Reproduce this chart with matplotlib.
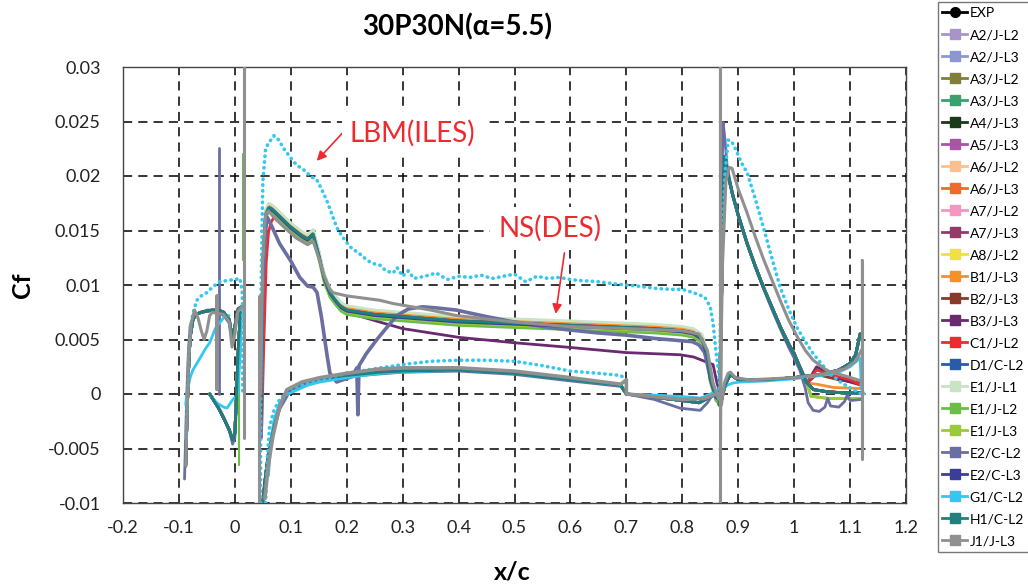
import numpy as np
import matplotlib
matplotlib.use("Agg")
import matplotlib.pyplot as plt
from matplotlib.lines import Line2D
from matplotlib.ticker import FuncFormatter, MultipleLocator

plt.rcParams["font.family"] = ["Lato", "DejaVu Sans"]

# ---- data ----
NAMES = ["EXP", "A2/J-L2", "A2/J-L3", "A3/J-L2", "A3/J-L3", "A4/J-L3", "A5/J-L3",
         "A6/J-L2", "A6/J-L3", "A7/J-L2", "A7/J-L3", "A8/J-L2", "B1/J-L3", "B2/J-L3",
         "B3/J-L3", "C1/J-L2", "D1/C-L2", "E1/J-L1", "E1/J-L2", "E1/J-L3", "E2/C-L2",
         "E2/C-L3", "G1/C-L2", "H1/C-L2", "J1/J-L3"]
COLORS = ["#000000", "#A894C8", "#8C96D2", "#7F7F3A", "#3AA070", "#1A3A1A", "#A855A8",
          "#FCC090", "#F06A30", "#F595C0", "#943A6A", "#F0E040", "#F59030", "#8B3A2A",
          "#6A2A70", "#EE2A30", "#2A5AAA", "#C8E4C4", "#6ABE45", "#9ACA3C", "#6A6EA0",
          "#3A3E98", "#33C8F0", "#208080", "#909090"]

EXP_X = []
EXP_Y = []

# consensus of the NS (DES) group
SLAT_UP_X = [-0.088, -0.086, -0.083, -0.08, -0.075, -0.07, -0.06, -0.05, -0.04, -0.03,
             -0.02, -0.01, -0.005, 0.0, 0.006, 0.012]
SLAT_UP_Y = [-0.0066, -0.003, 0.002, 0.0052, 0.0068, 0.0073, 0.0075, 0.0076, 0.0077, 0.0077,
             0.0075, 0.0068, 0.0052, 0.0062, 0.0078, 0.008]
SLAT_LO_X = [-0.045, -0.04, -0.03, -0.02, -0.01, -0.004, 0.0, 0.003, 0.006, 0.01]
SLAT_LO_Y = [0.0, -0.0004, -0.0012, -0.0022, -0.0033, -0.0042, -0.0036, 0.0, 0.004, 0.0075]

MAIN_UP_X = [0.047, 0.05, 0.055, 0.06, 0.065, 0.07, 0.08, 0.09, 0.1, 0.11, 0.12, 0.13, 0.14,
             0.15, 0.16, 0.17, 0.18, 0.19, 0.2, 0.25, 0.3, 0.35, 0.4, 0.45, 0.5, 0.55, 0.6,
             0.65, 0.7, 0.75, 0.8, 0.82, 0.835, 0.845, 0.85, 0.86, 0.866]
MAIN_UP_Y = [-0.002, 0.012, 0.0165, 0.0171, 0.017, 0.0168, 0.0163, 0.0158, 0.0153, 0.0149,
             0.0145, 0.0142, 0.0147, 0.0128, 0.0106, 0.0093, 0.0086, 0.008, 0.0077, 0.0073,
             0.0071, 0.0069, 0.0067, 0.0066, 0.0065, 0.0064, 0.0063, 0.0062, 0.0061, 0.006,
             0.0058, 0.0056, 0.0051, 0.0035, 0.0015, -0.0002, -0.0005]
MAIN_LO_X = [0.05, 0.055, 0.06, 0.07, 0.08, 0.09, 0.1, 0.12, 0.15, 0.2, 0.26, 0.3, 0.4, 0.5,
             0.6, 0.69, 0.7, 0.75, 0.8, 0.83, 0.845, 0.86]
MAIN_LO_Y = [-0.0099, -0.0075, -0.0055, -0.003, -0.0012, 0.0, 0.0005, 0.001, 0.0014, 0.0017,
             0.002, 0.0021, 0.0022, 0.0019, 0.0013, 0.0008, 0.0, -0.0003, -0.0006, -0.0008,
             -0.0004, 0.0]

FLAP_UP_X = [0.866, 0.87, 0.873, 0.876, 0.88, 0.89, 0.9, 0.916, 0.93, 0.945, 0.96, 0.975,
             0.99, 1.0, 1.01, 1.023]
FLAP_UP_Y = [-0.001, 0.008, 0.018, 0.0218, 0.0205, 0.0183, 0.0164, 0.0138, 0.0118, 0.0098,
             0.008, 0.0062, 0.0046, 0.0037, 0.0025, 0.001]
FLAP_LO_X = [0.868, 0.875, 0.88, 0.886, 0.9, 0.95, 1.0, 1.05, 1.08, 1.1, 1.11, 1.118]
FLAP_LO_Y = [-0.001, 0.0005, 0.0012, 0.0018, 0.0013, 0.0013, 0.0015, 0.0018, 0.0022, 0.0028,
             0.0036, 0.0055]

# flap trailing part of the upper surface, per group
TAIL_DEFAULT = ([1.035, 1.06, 1.09, 1.12], [0.0004, 0.0002, 0.0001, 0.0001])
TAIL_E1 = ([1.03, 1.06, 1.12], [-0.0002, -0.0004, -0.0004])
TAIL_B1 = ([1.04, 1.07, 1.12], [0.0009, 0.0006, 0.0005])
TAIL_B2 = ([1.04, 1.08, 1.12], [0.0018, 0.0013, 0.001])
TAIL_C1 = ([1.04, 1.07, 1.1, 1.12], [0.0022, 0.0017, 0.0013, 0.0008])
TAIL_B3 = ([1.04, 1.08, 1.12], [0.0025, 0.0014, 0.0008])

# shift of each NS series on the main element upper surface
MAIN_SHIFT = {"A2/J-L2": 0.0001, "A2/J-L3": 0.0001, "A3/J-L2": 0.0, "A3/J-L3": -0.0001,
              "A4/J-L3": 0.0, "A5/J-L3": 0.0, "A6/J-L2": 0.0003, "A6/J-L3": 0.0001,
              "A7/J-L2": 0.0002, "A7/J-L3": 0.0, "A8/J-L2": 0.0001, "B1/J-L3": 0.0002,
              "B2/J-L3": -0.0001, "B3/J-L3": 0.0, "C1/J-L2": 0.0, "D1/C-L2": 0.0,
              "E1/J-L1": 0.0004, "E1/J-L2": -0.0004, "E1/J-L3": -0.0002, "E2/C-L3": -0.0001,
              "H1/C-L2": 0.0}
TAILS = {"B1/J-L3": TAIL_B1, "B2/J-L3": TAIL_B2, "C1/J-L2": TAIL_C1, "B3/J-L3": TAIL_B3,
         "E1/J-L1": TAIL_E1, "E1/J-L2": TAIL_E1, "E1/J-L3": TAIL_E1}

# B3/J-L3 departs from the group aft of x/c=0.2
B3_MAIN_X = [0.2, 0.259, 0.3, 0.4, 0.5, 0.593, 0.7, 0.796, 0.82, 0.84, 0.855, 0.862, 0.87]
B3_MAIN_Y = [0.0075, 0.0066, 0.006, 0.0052, 0.0047, 0.0043, 0.0038, 0.0036, 0.0034, 0.003,
             0.0027, 0.001, -0.0003]
# C1/J-L2 slower rise at the main leading edge
C1_LE_X = [0.048, 0.052, 0.056, 0.06, 0.065, 0.07, 0.08]
C1_LE_Y = [-0.003, 0.005, 0.012, 0.0148, 0.0158, 0.0162, 0.0162]

# E2/C-L2
E2_SLAT_UP_X = [-0.09, -0.088, -0.086, -0.083, -0.08, -0.075, -0.07, -0.06, -0.05, -0.04,
                -0.03, -0.02, -0.01, -0.005, 0.0, 0.005]
E2_SLAT_UP_Y = [-0.0078, -0.004, 0.0, 0.004, 0.0062, 0.007, 0.0073, 0.0075, 0.0077, 0.0077,
                0.0074, 0.0072, 0.0065, 0.0048, 0.006, 0.0075]
E2_SPIKE_X = [-0.029, -0.029]
E2_SPIKE_Y = [0.0, 0.0226]
E2_SLAT_LO_X = [-0.045, -0.035, -0.02, -0.01, -0.004, 0.0, 0.003]
E2_SLAT_LO_Y = [0.0, -0.0008, -0.0022, -0.0033, -0.0046, -0.004, -0.001]
E2_MAIN_UP_X = [0.047, 0.05, 0.055, 0.058, 0.065, 0.08, 0.1, 0.116, 0.13, 0.14, 0.147, 0.155,
                0.165, 0.17, 0.182, 0.193, 0.21, 0.218, 0.22, 0.222, 0.235, 0.254, 0.27, 0.29,
                0.31, 0.336, 0.36, 0.396, 0.45, 0.5, 0.55, 0.593, 0.65, 0.7, 0.75, 0.818, 0.83,
                0.84, 0.85, 0.86]
E2_MAIN_UP_Y = [-0.004, 0.01, 0.015, 0.0162, 0.0155, 0.0138, 0.0122, 0.0107, 0.0099, 0.0098,
                0.0093, 0.007, 0.0035, 0.0019, 0.0011, 0.0013, 0.0016, 0.0024, -0.0019, 0.0026,
                0.0037, 0.005, 0.006, 0.0072, 0.0078, 0.008, 0.0079, 0.0077, 0.0071, 0.0066,
                0.0062, 0.0059, 0.0056, 0.0054, 0.0051, 0.0048, 0.0045, 0.0038, 0.0015, -0.0003]
E2_MAIN_LO_X = [0.05, 0.06, 0.07, 0.08, 0.1, 0.15, 0.2, 0.3, 0.4, 0.5, 0.6, 0.69, 0.7, 0.75,
                0.796, 0.832, 0.845, 0.855]
E2_MAIN_LO_Y = [-0.0095, -0.0058, -0.0032, -0.0014, 0.0004, 0.0013, 0.0016, 0.002, 0.0021,
                0.0018, 0.0012, 0.0007, 0.0, -0.0005, -0.0013, -0.0015, -0.0008, 0.0]
E2_FLAP_UP_X = [0.868, 0.869, 0.871, 0.873, 0.876, 0.88, 0.89, 0.9, 0.916, 0.93, 0.945, 0.96,
                0.975, 0.99, 1.0, 1.01, 1.02, 1.025, 1.034, 1.045, 1.055, 1.06, 1.065, 1.08,
                1.09, 1.095, 1.1, 1.12]
E2_FLAP_UP_Y = [-0.01, 0.0, 0.02, 0.0249, 0.0235, 0.021, 0.0182, 0.0165, 0.0138, 0.0117,
                0.0097, 0.0078, 0.006, 0.0043, 0.0033, 0.0022, 0.0005, -0.0008, -0.0015,
                -0.0016, -0.0012, -0.0004, -0.0011, -0.0012, -0.0007, -0.0001, -0.0006,
                -0.0005]

# G1/C-L2 (LBM, dotted) and its solid parts
G1_MAIN_X = [0.046, 0.046, 0.047, 0.05, 0.055, 0.06, 0.07, 0.075, 0.08, 0.086, 0.095, 0.105,
             0.116, 0.125, 0.135, 0.147, 0.155, 0.164, 0.172, 0.182, 0.19, 0.2, 0.21, 0.22,
             0.236, 0.245, 0.26, 0.27, 0.283, 0.29, 0.3, 0.31, 0.32, 0.34, 0.36, 0.38, 0.4,
             0.42, 0.44, 0.46, 0.48, 0.5, 0.52, 0.54, 0.56, 0.58, 0.6, 0.62, 0.65, 0.68, 0.7,
             0.72, 0.75, 0.78, 0.8, 0.82, 0.84, 0.85, 0.855, 0.86, 0.865, 0.868]
G1_MAIN_Y = [-0.01, 0.0, 0.01, 0.0195, 0.0225, 0.023, 0.0237, 0.0235, 0.0232, 0.0226, 0.022,
             0.0213, 0.0208, 0.0205, 0.02, 0.0196, 0.0188, 0.0178, 0.0167, 0.0153, 0.0146,
             0.0139, 0.0133, 0.013, 0.0123, 0.012, 0.0118, 0.0113, 0.0111, 0.0116, 0.0108,
             0.0113, 0.0106, 0.0108, 0.0111, 0.0105, 0.0108, 0.0107, 0.0109, 0.0106, 0.0108,
             0.011, 0.0103, 0.0108, 0.0106, 0.0107, 0.0105, 0.0104, 0.0103, 0.0101, 0.01,
             0.0099, 0.0097, 0.0096, 0.0096, 0.0093, 0.0089, 0.008, 0.0065, 0.004, 0.002, 0.0004]
G1_LO_DOT_X = [0.055, 0.058, 0.062, 0.07, 0.08, 0.1, 0.15, 0.2, 0.26, 0.3, 0.35, 0.4, 0.45,
               0.5, 0.55, 0.6, 0.65, 0.69, 0.7]
G1_LO_DOT_Y = [-0.01, -0.006, -0.003, -0.0015, -0.0005, 0.0005, 0.0013, 0.0019, 0.0024,
               0.0027, 0.003, 0.0031, 0.0031, 0.003, 0.0026, 0.0021, 0.0019, 0.0017, 0.0013]
G1_LO_X = [0.06, 0.065, 0.07, 0.08, 0.09, 0.104, 0.13, 0.152, 0.2, 0.26, 0.3, 0.4, 0.5, 0.6,
           0.69, 0.7, 0.75, 0.82, 0.832, 0.85, 0.87]
G1_LO_Y = [-0.0075, -0.004, -0.0024, -0.0008, -0.0001, 0.0002, 0.0008, 0.0011, 0.0015,
           0.0019, 0.002, 0.0022, 0.0019, 0.0013, 0.0008, 0.0, -0.0001, -0.0003, -0.0004, 0.0,
           0.0004]
G1_SLAT_DOT_X = [-0.088, -0.086, -0.084, -0.082, -0.08, -0.075, -0.068, -0.06, -0.05, -0.04,
                 -0.027, -0.015, 0.0, 0.009, 0.013, 0.014, 0.014]
G1_SLAT_DOT_Y = [-0.004, -0.002, 0.001, 0.004, 0.0059, 0.0074, 0.0086, 0.009, 0.0093, 0.0098,
                 0.0103, 0.0104, 0.0105, 0.0106, 0.0095, 0.0074, 0.0]
G1_SLAT_X = [-0.088, -0.086, -0.08, -0.075, -0.068, -0.06, -0.052, -0.045, -0.035, -0.02,
             -0.01]
G1_SLAT_Y = [-0.001, 0.0, 0.0015, 0.0022, 0.0028, 0.0035, 0.0042, 0.0047, 0.006, 0.007,
             0.0072]
G1_SLAT_LO_X = [-0.045, -0.04, -0.03, -0.02, -0.014, -0.005, 0.005, 0.01, 0.012]
G1_SLAT_LO_Y = [0.0, -0.0004, -0.0009, -0.0012, -0.0013, -0.0006, 0.0, 0.004, 0.0075]
G1_FLAP_DOT_X = [0.866, 0.868, 0.872, 0.876, 0.882, 0.888, 0.895, 0.905, 0.916, 0.93, 0.945,
                 0.96, 0.975, 0.99, 1.005, 1.02, 1.034, 1.05, 1.064, 1.08, 1.095, 1.11, 1.12]
G1_FLAP_DOT_Y = [0.0, 0.006, 0.014, 0.02, 0.0233, 0.0232, 0.0225, 0.0213, 0.0203, 0.018,
                 0.0153, 0.0125, 0.0098, 0.0078, 0.0061, 0.0048, 0.0037, 0.0027, 0.0019,
                 0.0012, 0.0007, 0.0003, 0.0]
G1_FLAP_X = [0.868, 0.873, 0.88, 0.89, 0.903, 0.95, 1.0, 1.05, 1.08, 1.1, 1.118, 1.12, 1.125]
G1_FLAP_Y = [0.0, 0.0004, 0.0008, 0.001, 0.0011, 0.0012, 0.0014, 0.0017, 0.002, 0.0025,
             0.0033, 0.0005, 0.0]

# J1/J-L3
J1_SLAT_X = [-0.088, -0.086, -0.083, -0.078, -0.072, -0.066, -0.06, -0.055, -0.05, -0.045,
             -0.04, -0.032, -0.032, -0.032, -0.032, -0.02, -0.01, -0.005, 0.0, 0.005, 0.012]
J1_SLAT_Y = [-0.0066, -0.003, 0.003, 0.0065, 0.0077, 0.007, 0.0058, 0.005, 0.0058, 0.0072,
             0.0075, 0.0074, 0.009, 0.0004, 0.0074, 0.0073, 0.0066, 0.0043, 0.0055, 0.0075,
             0.008]
J1_SPIKES_X = [[0.016, 0.016], [0.044, 0.044], [0.868, 0.868], [1.122, 1.122]]
J1_SPIKES_Y = [[-0.004, 0.03], [-0.01, 0.009], [-0.01, 0.03], [-0.006, 0.0123]]
J1_MAIN_X = [0.046, 0.05, 0.055, 0.06, 0.07, 0.09, 0.11, 0.13, 0.14, 0.15, 0.16, 0.17, 0.175,
             0.2, 0.259, 0.283, 0.35, 0.396, 0.5, 0.593, 0.7, 0.8, 0.83, 0.845, 0.855, 0.865]
J1_MAIN_Y = [0.0, 0.012, 0.0165, 0.0168, 0.0162, 0.0152, 0.0143, 0.0137, 0.014, 0.0125,
             0.0108, 0.0096, 0.0093, 0.009, 0.0086, 0.0083, 0.0077, 0.0072, 0.0066, 0.0062,
             0.006, 0.0058, 0.0055, 0.004, 0.001, -0.0005]
J1_LO_X = [0.0536, 0.06, 0.068, 0.08, 0.093, 0.12, 0.152, 0.2, 0.259, 0.3, 0.4, 0.5, 0.6,
           0.69, 0.7, 0.7, 0.8, 0.84, 0.86]
J1_LO_Y = [-0.0096, -0.0065, -0.0039, -0.0012, 0.0004, 0.0011, 0.0015, 0.0019, 0.0023,
           0.0024, 0.0024, 0.0021, 0.0015, 0.0009, 0.0013, 0.0, -0.0005, -0.0004, 0.0]
J1_FLAP_X = [0.868, 0.872, 0.878, 0.884, 0.889, 0.9, 0.916, 0.93, 0.945, 0.96, 0.975, 0.99,
             1.005, 1.02, 1.034, 1.06, 1.095, 1.12]
J1_FLAP_Y = [0.0, 0.012, 0.0195, 0.0208, 0.0207, 0.0188, 0.0166, 0.0145, 0.0124, 0.0105,
             0.0086, 0.0068, 0.0053, 0.004, 0.0031, 0.0021, 0.0016, 0.0012]
J1_FLAP_LO_X = [0.87, 0.875, 0.882, 0.886, 0.895, 0.92, 1.0, 1.05, 1.09, 1.11, 1.12]
J1_FLAP_LO_Y = [-0.001, 0.001, 0.0019, 0.002, 0.0015, 0.0013, 0.0015, 0.0018, 0.0023, 0.003,
                0.004]

# spikes of E1 / B3 near trailing edges
E1_SPIKES_X = [[0.014, 0.014], [0.008, 0.008], [0.868, 0.868], [1.122, 1.122]]
E1_SPIKES_Y = [[0.0123, 0.022], [0.004, -0.0065], [0.0, 0.03], [-0.0049, 0.0123]]
B3_SPIKE_X = [1.122, 1.122]
B3_SPIKE_Y = [0.0, 0.0123]


def seg(ax, x, y, color, lw=2.0, z=2):
    ax.plot(x, y, color=color, lw=lw, solid_capstyle="round", zorder=z)


def dots(ax, x, y, color):
    ax.plot(x, y, color=color, lw=2.6, linestyle=(0, (0.1, 1.5)),
            dash_capstyle="round", zorder=3)


def draw_ns(ax, name, color):
    shift = MAIN_SHIFT.get(name, 0.0)
    seg(ax, SLAT_UP_X, SLAT_UP_Y, color)
    seg(ax, SLAT_LO_X, SLAT_LO_Y, color)
    mx = np.array(MAIN_UP_X)
    my = np.array(MAIN_UP_Y) + shift
    if name == "C1/J-L2":
        keep = mx > 0.085
        mx = np.concatenate([C1_LE_X, mx[keep]])
        my = np.concatenate([C1_LE_Y, my[keep]])
    if name == "B3/J-L3":
        keep = mx < 0.2
        mx = np.concatenate([mx[keep], B3_MAIN_X])
        my = np.concatenate([my[keep], B3_MAIN_Y])
    seg(ax, mx, my, color)
    seg(ax, MAIN_LO_X, MAIN_LO_Y, color)
    tx, ty = TAILS.get(name, TAIL_DEFAULT)
    seg(ax, FLAP_UP_X + tx, FLAP_UP_Y + ty, color)
    seg(ax, FLAP_LO_X, FLAP_LO_Y, color)


def main():
    fig = plt.figure(figsize=(10.28, 5.88), dpi=100)
    ax = fig.add_axes([123 / 1028, 1 - 503 / 588, 783 / 1028, 436 / 588])

    ax.plot(EXP_X, EXP_Y, color="black", marker="o")

    for name, color in zip(NAMES[1:], COLORS[1:]):
        if name == "E2/C-L2":
            seg(ax, E2_SLAT_UP_X, E2_SLAT_UP_Y, color)
            seg(ax, E2_SPIKE_X, E2_SPIKE_Y, color)
            seg(ax, E2_SLAT_LO_X, E2_SLAT_LO_Y, color)
            seg(ax, E2_MAIN_UP_X, E2_MAIN_UP_Y, color, lw=2.6)
            seg(ax, E2_MAIN_LO_X, E2_MAIN_LO_Y, color)
            seg(ax, E2_FLAP_UP_X, E2_FLAP_UP_Y, color)
            seg(ax, FLAP_LO_X, FLAP_LO_Y, color)
        elif name == "G1/C-L2":
            dots(ax, G1_MAIN_X, G1_MAIN_Y, color)
            dots(ax, G1_LO_DOT_X, G1_LO_DOT_Y, color)
            dots(ax, G1_SLAT_DOT_X, G1_SLAT_DOT_Y, color)
            dots(ax, G1_FLAP_DOT_X, G1_FLAP_DOT_Y, color)
            seg(ax, G1_LO_X, G1_LO_Y, color)
            seg(ax, G1_SLAT_X, G1_SLAT_Y, color)
            seg(ax, G1_SLAT_LO_X, G1_SLAT_LO_Y, color)
            seg(ax, G1_FLAP_X, G1_FLAP_Y, color)
        elif name == "J1/J-L3":
            seg(ax, J1_SLAT_X, J1_SLAT_Y, color, lw=2.2, z=4)
            for sx, sy in zip(J1_SPIKES_X, J1_SPIKES_Y):
                seg(ax, sx, sy, color, lw=2.2, z=4)
            seg(ax, J1_MAIN_X, J1_MAIN_Y, color, lw=2.2, z=4)
            seg(ax, J1_LO_X, J1_LO_Y, color, lw=2.6, z=4)
            seg(ax, J1_FLAP_X, J1_FLAP_Y, color, lw=2.2, z=4)
            seg(ax, J1_FLAP_LO_X, J1_FLAP_LO_Y, color, lw=2.2, z=4)
        else:
            draw_ns(ax, name, color)
            if name == "E1/J-L2":
                for sx, sy in zip(E1_SPIKES_X, E1_SPIKES_Y):
                    seg(ax, sx, sy, color, lw=1.5)
            if name == "B3/J-L3":
                seg(ax, B3_SPIKE_X, B3_SPIKE_Y, color, lw=1.5)

    ax.set_xlim(-0.2, 1.2)
    ax.set_ylim(-0.01, 0.03)
    ax.xaxis.set_major_locator(MultipleLocator(0.1))
    ax.yaxis.set_major_locator(MultipleLocator(0.005))
    ax.xaxis.set_major_formatter(FuncFormatter(lambda v, p: "%g" % round(v, 2)))
    ax.yaxis.set_major_formatter(FuncFormatter(lambda v, p: "%g" % round(v, 4)))
    ax.tick_params(length=0, labelsize=13, colors="#222222")
    ax.tick_params(axis="y", pad=16)
    ax.tick_params(axis="x", pad=12)
    ax.grid(True, color="black", lw=1.1, linestyle=(0, (6, 4)))
    ax.set_axisbelow(True)
    for sp in ax.spines.values():
        sp.set_color("#444444")
        sp.set_linewidth(1.0)

    ax.annotate("", xy=(0.143, 0.0212), xytext=(0.197, 0.0242),
                arrowprops=dict(arrowstyle="-|>", color="#EE2A30", lw=1.2,
                                mutation_scale=14), zorder=6)
    ax.text(0.318, 0.0239, "LBM(ILES)", color="#EE2A30", fontsize=20, ha="center",
            va="center", zorder=6,
            bbox=dict(facecolor="white", edgecolor="none", pad=6))
    ax.annotate("", xy=(0.573, 0.0071), xytext=(0.59, 0.0132),
                arrowprops=dict(arrowstyle="-|>", color="#EE2A30", lw=1.2,
                                mutation_scale=14), zorder=6)
    ax.text(0.563, 0.0152, "NS(DES)", color="#EE2A30", fontsize=20, ha="center",
            va="center", zorder=6,
            bbox=dict(facecolor="white", edgecolor="none", pad=6))

    fig.text(0.445, 0.955, "30P30N(α=5.5)", fontsize=20, fontweight="bold",
             ha="center", va="center")
    fig.text(0.022, 0.515, "Cf", fontsize=18, fontweight="bold", rotation=90,
             ha="center", va="center")
    fig.text(0.498, 0.027, "x/c", fontsize=18, fontweight="bold", ha="center",
             va="center")

    handles = []
    for name, color in zip(NAMES, COLORS):
        mk = "o" if name == "EXP" else "s"
        handles.append(Line2D([], [], color=color, marker=mk, markersize=7, lw=2))
    leg = fig.legend(handles, NAMES, loc="upper left", bbox_to_anchor=(0.912, 0.996),
                     fontsize=10.0, frameon=True, fancybox=False, handlelength=1.8,
                     handletextpad=0.15, labelspacing=0.72, borderpad=0.35,
                     borderaxespad=0.0)
    leg.get_frame().set_edgecolor("#555555")
    leg.get_frame().set_linewidth(1.0)

    fig.savefig("out.png", dpi=100)


if __name__ == "__main__":
    main()
